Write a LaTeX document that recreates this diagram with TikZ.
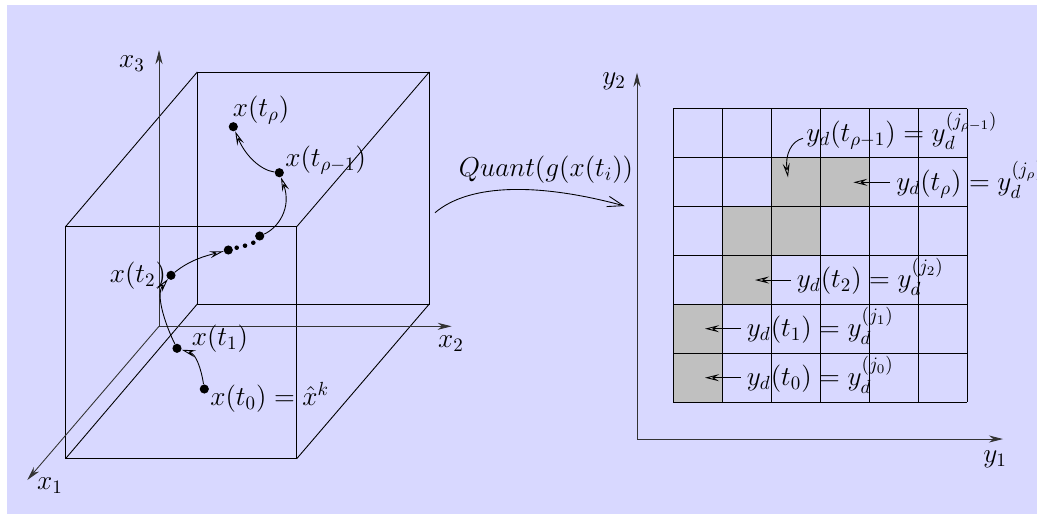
\documentclass[tikz,border=0pt]{standalone}
\usepackage{amsmath, amssymb}
\usepackage{tikz}
\usetikzlibrary{arrows.meta, calc, positioning}

\definecolor{panelblue}{RGB}{216,216,255}
\definecolor{cellgray}{RGB}{192,192,192}

\begin{document}
\begin{tikzpicture}[x=0.02cm, y=-0.02cm,
    edge/.style={black, line width=0.5pt},
    axis/.style={black!80, line width=0.5pt, -{Stealth[length=8pt, width=4pt, inset=2.5pt]}},
    traj/.style={black, line width=0.5pt, -{Stealth[length=8pt, width=4pt, inset=3pt, open]}},
    pt/.style={circle, fill=black, inner sep=0pt, minimum size=5.2pt},
    tinypt/.style={circle, fill=black, inner sep=0pt, minimum size=2.6pt},
    lab/.style={font=\Large, scale=1.08, inner sep=0pt}]
  \useasboundingbox (0,0) rectangle (1037,515);

  % Background
  \fill[panelblue] (7,5) rectangle (1037,514);

  % Gray cells
  \foreach \c/\r in {0/4, 0/5, 1/3, 1/2, 2/2, 2/1, 3/1}
    \fill[cellgray] ({673.3+48.95*\c},{108.7+48.95*\r}) rectangle ++(48.95,48.95);

  % Grid
  \foreach \k in {0,...,6} {
    \draw[edge] ({673.3+48.95*\k},108.7) -- ({673.3+48.95*\k},402.4);
    \draw[edge] (673.3,{108.7+48.95*\k}) -- (967,{108.7+48.95*\k});
  }

  % Box
  \draw[edge] (65.5,226.7) rectangle (296.7,458.7);
  \draw[edge] (197.3,72) rectangle (429.3,304);
  \draw[edge] (65.5,226.7) -- (197.3,72);
  \draw[edge] (296.7,226.7) -- (429.3,72);
  \draw[edge] (65.5,458.7) -- (197.3,304);
  \draw[edge] (296.7,458.7) -- (429.3,304);

  % Axes, left
  \coordinate (O) at (159,326.3);
  \coordinate (xone) at (27.3,480);
  \coordinate (xtwo) at (451.7,326.3);
  \coordinate (xthree) at (159,50);
  \draw[axis] (O) -- (xone);
  \draw[axis] (O) -- (xtwo);
  \draw[axis] (O) -- (xthree);
  \node[lab] (xonelab) at (50,486) {$x_1$};
  \node[lab] (xtwolab) at (451,344) {$x_2$};
  \node[lab] (xthreelab) at (132,64) {$x_3$};

  % Axes, right
  \coordinate (Y) at (637,439);
  \coordinate (yone) at (1003,439);
  \coordinate (ytwo) at (637,72.7);
  \draw[axis] (Y) -- (yone);
  \draw[axis] (Y) -- (ytwo);
  \node[lab] (yonelab) at (995,459) {$y_1$};
  \node[lab] (ytwolab) at (614,81) {$y_2$};

  % Trajectory points
  \node[pt] (P0) at (204.3,389) {};
  \node[pt] (P1) at (177,348.3) {};
  \node[pt] (P2) at (171,275.3) {};
  \node[pt] (P3) at (228.3,250) {};
  \node[pt] (P4) at (259.7,236) {};
  \node[pt] (P5) at (279.3,172.7) {};
  \node[pt] (P6) at (233.3,126.7) {};
  \node[tinypt] (D1) at (236.7,247.7) {};
  \node[tinypt] (D2) at (245,245.7) {};
  \node[tinypt] (D3) at (253.3,242.7) {};

  % Trajectory curves
  \draw[traj] (P0) .. controls (201,368) and (196,354) .. (P1);
  \draw[traj] (P1) .. controls (166,326) and (155,295) .. (P2);
  \draw[traj] (P2) .. controls (190,260) and (205,256) .. (P3);
  \draw[traj] (P4) .. controls (278,228) and (292,208) .. (P5);
  \draw[traj] (P5) .. controls (260,170) and (245,155) .. (P6);

  \node[lab, anchor=base west] (x0lab) at (210,405) {$x(t_0)=\hat{x}^k$};
  \node[lab, anchor=base west] (x1lab) at (191.5,345) {$x(t_1)$};
  \node[lab, anchor=base west] (x2lab) at (109.5,282) {$x(t_2)$};
  \node[lab, anchor=base west] (x5lab) at (285,166) {$x(t_{\rho-1})$};
  \node[lab, anchor=base west] (x6lab) at (232.5,116) {$x(t_\rho)$};

  % Quantization
  \node[lab] (quantlab) at (546,170) {$Quant(g(x(t_i))$};
  \coordinate (qs) at (435,212.7);
  \coordinate (qe) at (624.6,206);
  \draw[edge, -{Straight Barb[length=9pt, width=6pt]}] (qs) .. controls (470,183) and (540,183) .. (qe);

  % Cell labels
  \node[lab, anchor=base west] (y0lab) at (746.5,385) {$y_d(t_0)=y_d^{(j_0)}$};
  \node[lab, anchor=base west] (y1lab) at (746.5,336) {$y_d(t_1)=y_d^{(j_1)}$};
  \node[lab, anchor=base west] (y2lab) at (796.5,287) {$y_d(t_2)=y_d^{(j_2)}$};
  \node[lab, anchor=base west] (y5lab) at (896,190) {$y_d(t_\rho)=y_d^{(j_\rho)}$};
  \node[lab, anchor=base west] (y6lab) at (806,141) {$y_d(t_{\rho-1})=y_d^{(j_{\rho-1})}$};

  % Cell arrows
  \coordinate (c0) at (705,377.7);
  \coordinate (c1) at (705,328.7);
  \coordinate (c2) at (755,280);
  \coordinate (c5) at (853.3,182.3);
  \coordinate (c6) at (788,177.3);
  \draw[traj] (y0lab.west |- c0) ++(-6,0) -- (c0);
  \draw[traj] (y1lab.west |- c1) ++(-6,0) -- (c1);
  \draw[traj] (y2lab.west |- c2) ++(-6,0) -- (c2);
  \draw[traj] (y5lab.west |- c5) ++(-6,0) -- (c5);
  \draw[traj] (y6lab.west |- 0,138.3) ++(-3,0) .. controls (791,141) and (785,155) .. (c6);
\end{tikzpicture}
\end{document}
